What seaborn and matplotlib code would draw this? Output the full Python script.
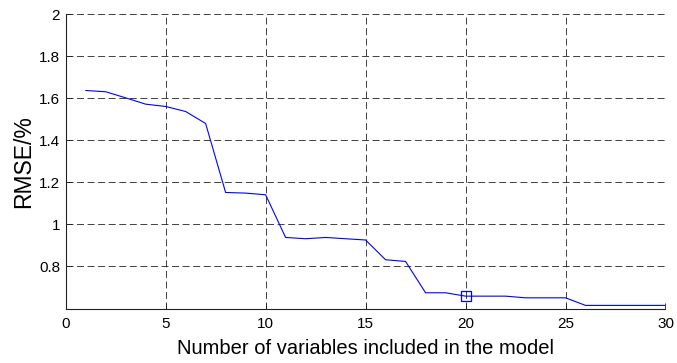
import matplotlib
matplotlib.use("Agg")
import matplotlib.pyplot as plt
import seaborn as sns
import pandas as pd

# RMSE versus number of selected variables
n_vars = list(range(1, 31))
rmse = [1.637, 1.631, 1.602, 1.572, 1.561, 1.537, 1.480, 1.152, 1.149, 1.141,
        0.938, 0.932, 0.938, 0.932, 0.926, 0.832, 0.824, 0.675, 0.675, 0.659,
        0.659, 0.659, 0.651, 0.651, 0.651, 0.615, 0.615, 0.615, 0.615, 0.615]
best_n = 20

x_ticks = [0, 5, 10, 15, 20, 25, 30]
y_ticks = [0.8, 1.0, 1.2, 1.4, 1.6, 1.8, 2.0]
y_tick_labels = ["0.8", "1", "1.2", "1.4", "1.6", "1.8", "2"]

sns.set_style("white")
plt.rcParams["font.family"] = ["Liberation Sans", "DejaVu Sans"]
plt.rcParams["lines.scale_dashes"] = False

df = pd.DataFrame({"n": n_vars, "rmse": rmse})

fig = plt.figure(figsize=(6.77, 3.63), dpi=100)
ax = fig.add_axes([0.097, 0.150, 0.886, 0.811])

sns.lineplot(data=df, x="n", y="rmse", ax=ax, color="#0000ff", linewidth=0.8)
best = df[df["n"] == best_n]
ax.plot(best["n"], best["rmse"], linestyle="none", marker="s", markersize=7.2,
        markerfacecolor="none", markeredgecolor="#0000ff", markeredgewidth=0.9,
        zorder=5)

ax.set_xlim(0, 30)
ax.set_ylim(0.6, 2.0)
ax.set_xticks(x_ticks)
ax.set_yticks(y_ticks)
ax.set_yticklabels(y_tick_labels)

ax.grid(True, color="#222222", linestyle=(0, (5, 2.6)), linewidth=0.6)
for s in ["top", "right"]:
    ax.spines[s].set_visible(False)
for s in ["left", "bottom"]:
    ax.spines[s].set_color("#222222")
    ax.spines[s].set_linewidth(0.8)

ax.tick_params(direction="in", length=4, width=0.6, colors="#222222",
               labelsize=11, labelcolor="black", left=True, bottom=True)
ax.tick_params(axis="x", pad=6)
ax.tick_params(axis="y", pad=4)
ax.set_xlabel("Number of variables included in the model", fontsize=14.5,
              color="black", labelpad=6)
ax.set_ylabel("RMSE/%", fontsize=16.5, color="black", labelpad=3)

fig.savefig("out.png", dpi=100)
